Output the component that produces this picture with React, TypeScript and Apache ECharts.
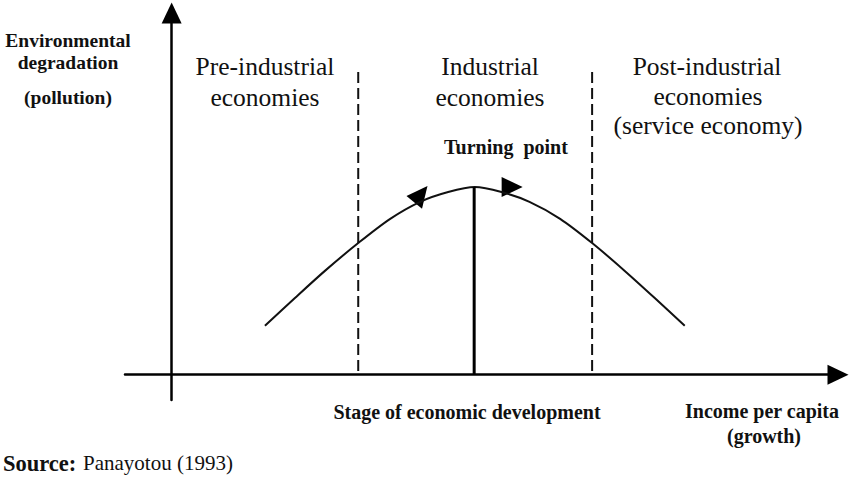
import React, { useEffect, useRef } from "react";
import * as echarts from "echarts";

// Environmental Kuznets curve (schematic)
const curveIncome = [14.0, 18.5, 23.0, 28.0, 32.8, 37.3, 41.5, 45.5, 49.5, 53.7, 58.3, 63.1, 68.0, 72.5, 77.0];
const curvePollution = [13.5, 21.2, 28.7, 36.4, 43.1, 47.8, 50.5, 51.9, 50.5, 47.8, 43.1, 36.4, 28.7, 21.2, 13.5];

const stageBoundaries = [28.0, 63.1];
const stageLineTop = 84.8;
const stageLineBottom = 1;

const turningPointIncome = 45.4;
const turningPointPollution = 51.9;

const arrowIncome = [37.4, 51.1];
const arrowPollution = [49.9, 51.9];
const arrowRotation = [-39, -90];

const FONT = "Liberation Serif";

export default function App() {
  const ref = useRef<HTMLDivElement>(null);

  useEffect(() => {
    if (!ref.current) return;
    const chart = echarts.init(ref.current, undefined, { renderer: "svg" });

    const curveData = curveIncome.map((x, i) => [x, curvePollution[i]]);

    const boundarySeries = stageBoundaries.map((x) => ({
      type: "line",
      data: [
        [x, stageLineBottom],
        [x, stageLineTop],
      ],
      showSymbol: false,
      silent: true,
      lineStyle: { color: "#111", width: 2, type: [11, 5] },
    }));

    const txt = (
      text: string,
      x: number,
      y: number,
      size: number,
      bold: boolean,
      align = "center"
    ) => ({
      type: "text",
      x,
      y,
      silent: true,
      style: {
        text,
        fill: "#111",
        fontFamily: FONT,
        fontSize: size,
        fontWeight: bold ? "bold" : "normal",
        textAlign: align,
        textVerticalAlign: "middle",
      },
    });

    chart.setOption({
      animation: false,
      backgroundColor: "#fff",
      grid: { left: 125, right: 12, top: 13, bottom: 78, containLabel: false },
      xAxis: {
        type: "value",
        min: -7,
        max: 100,
        axisLine: {
          show: true,
          onZero: true,
          symbol: ["none", "triangle"],
          symbolSize: [20, 21],
          lineStyle: { color: "#000", width: 2.5 },
        },
        axisTick: { show: false },
        axisLabel: { show: false },
        splitLine: { show: false },
      },
      yAxis: {
        type: "value",
        min: -7,
        max: 100,
        axisLine: {
          show: true,
          onZero: true,
          symbol: ["none", "triangle"],
          symbolSize: [20, 21],
          lineStyle: { color: "#000", width: 2.5 },
        },
        axisTick: { show: false },
        axisLabel: { show: false },
        splitLine: { show: false },
      },
      series: [
        {
          type: "line",
          data: curveData,
          smooth: 0.3,
          showSymbol: false,
          silent: true,
          lineStyle: { color: "#111", width: 2 },
        },
        ...boundarySeries,
        {
          type: "line",
          data: [
            [turningPointIncome, 0],
            [turningPointIncome, turningPointPollution],
          ],
          showSymbol: false,
          silent: true,
          lineStyle: { color: "#000", width: 3 },
        },
        {
          type: "scatter",
          silent: true,
          data: arrowIncome.map((x, i) => ({
            value: [x, arrowPollution[i]],
            symbolRotate: arrowRotation[i],
          })),
          symbol: "triangle",
          symbolSize: [20, 21],
          itemStyle: { color: "#000", opacity: 1 },
        },
      ],
      graphic: [
        txt("Environmental", 68, 40, 19.5, true),
        txt("degradation", 68, 62, 19.5, true),
        txt("(pollution)", 68, 97, 19.5, true),
        txt("Pre-industrial", 265, 66, 25.5, false),
        txt("economies", 265, 97, 25.5, false),
        txt("Industrial", 490, 66, 25.5, false),
        txt("economies", 490, 97, 25.5, false),
        txt("Post-industrial", 707, 66, 25.5, false),
        txt("economies", 708, 96, 25.5, false),
        txt("(service economy)", 708, 125, 25.5, false),
        txt("Turning  point", 506, 147, 20, true),
        txt("Stage of economic development", 467, 412, 20, true),
        txt("Income per capita", 762, 411, 20, true),
        txt("(growth)", 764, 436, 20, true),
        txt("Source:", 3, 463, 22.5, true, "left"),
        txt("Panayotou (1993)", 83, 463, 21, false, "left"),
      ],
    });

    return () => chart.dispose();
  }, []);

  return (
    <div
      ref={ref}
      style={{ position: "absolute", left: 0, top: 0, width: 850, height: 478 }}
    />
  );
}
